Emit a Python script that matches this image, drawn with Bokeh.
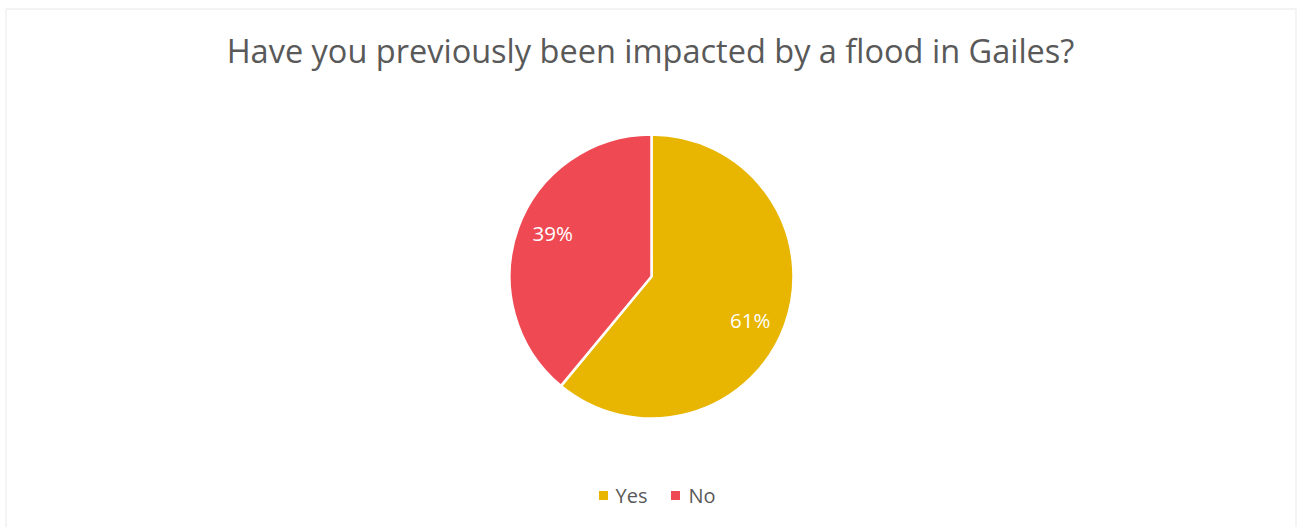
import math
from bokeh.plotting import figure
from bokeh.models import Range1d, ColumnDataSource, BoxAnnotation
from bokeh.core.properties import value
from bokeh.embed import file_html
from bokeh.resources import INLINE

# ---- data ----
title_text = "Have you previously been impacted by a flood in Gailes?"
categories = ["Yes", "No"]
shares = [61, 39]
colors = ["#E8B500", "#EF4A53"]

# ---- layout ----
W, H = 1298, 527
CX, CY, R = 651, H - 276, 142
FONT = "Open Sans"

p = figure(width=W, height=H, output_backend="svg", toolbar_location=None,
           x_range=Range1d(0, W), y_range=Range1d(0, H), min_border=0,
           match_aspect=False)
p.axis.visible = False
p.grid.visible = False
p.outline_line_color = None
p.background_fill_color = "white"
p.border_fill_color = "white"

# chart border
p.add_layout(BoxAnnotation(left=5.5, right=1295.5, top=H - 8.5, bottom=-20,
                           fill_color=None, line_color="#D6D6D6", line_width=1.8))

# wedges: clockwise from 12 o'clock
total = sum(shares)
starts, ends, lx, ly, labels = [], [], [], [], []
cum = 0.0
for s in shares:
    a0 = math.pi / 2 - 2 * math.pi * cum / total
    a1 = math.pi / 2 - 2 * math.pi * (cum + s) / total
    starts.append(a1)
    ends.append(a0)
    mid = (cum + s / 2) / total * 360 + 4  # degrees clockwise from top
    rr = 0.76 * R
    lx.append(CX + rr * math.sin(math.radians(mid)))
    ly.append(CY + rr * math.cos(math.radians(mid)))
    labels.append(f"{s}%")
    cum += s

src = ColumnDataSource(dict(start=starts, end=ends, color=colors,
                            lx=lx, ly=ly, label=labels))
p.wedge(x=CX, y=CY, radius=R, start_angle="start", end_angle="end",
        fill_color="color", line_color="white", line_width=2.5, source=src)
p.text(x="lx", y="ly", text="label", source=src, text_color="white",
       text_font=value(FONT), text_font_size="20.5px",
       text_align="center", text_baseline="middle")

# title
p.text(x=[W / 2 + 1], y=[H - 50], text=[title_text], text_color="#595959",
       text_font=value(FONT), text_font_size="32.5px",
       text_align="center", text_baseline="middle")

# legend
leg_sq_x = [603, 675]
leg_tx_x = [615, 688]
leg_y = H - 495
p.scatter(x=leg_sq_x, y=[leg_y] * 2, marker="square", size=9,
          fill_color=colors, line_color=None)
p.text(x=leg_tx_x, y=[leg_y] * 2, text=categories, text_color="#595959",
       text_font=value(FONT), text_font_size="20px",
       text_align="left", text_baseline="middle")

open("out.html", "w").write(file_html(p, INLINE))
